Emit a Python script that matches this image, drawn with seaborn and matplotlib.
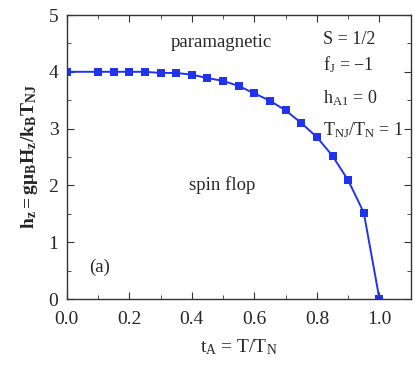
import numpy as np
import pandas as pd
import matplotlib
matplotlib.use("Agg")
import matplotlib.pyplot as plt
import seaborn as sns
from matplotlib.ticker import MultipleLocator

t_A = [0.0, 0.1, 0.15, 0.2, 0.25, 0.3, 0.35, 0.4, 0.45, 0.5, 0.55, 0.6,
       0.65, 0.7, 0.75, 0.8, 0.85, 0.9, 0.95, 1.0]
h_z = [4.0, 4.0, 4.0, 4.0, 4.0, 3.98, 3.98, 3.95, 3.89, 3.84, 3.75, 3.62,
       3.49, 3.32, 3.10, 2.85, 2.52, 2.09, 1.52, 0.0]
x_ticks = [0.0, 0.2, 0.4, 0.6, 0.8, 1.0]
y_ticks = [0, 1, 2, 3, 4, 5]

sns.set_style("ticks")
plt.rcParams['font.family'] = ['Liberation Serif', 'DejaVu Serif']
plt.rcParams['mathtext.fontset'] = 'custom'
plt.rcParams['mathtext.rm'] = 'Liberation Serif'
plt.rcParams['mathtext.it'] = 'Liberation Serif'
plt.rcParams['mathtext.bf'] = 'Liberation Serif:bold'

fig = plt.figure(figsize=(4.15, 3.68), dpi=100)
ax = fig.add_axes([66.7/415, 1 - 299/368, (410.7-66.7)/415, (299-15)/368])

df = pd.DataFrame({"t": t_A, "h": h_z})
sns.lineplot(data=df, x="t", y="h", ax=ax, color="#2233ee", lw=1.4,
             marker="s", markersize=6, markeredgewidth=0, markerfacecolor="#2233ee")

ax.set_xlim(0, 1.1)
ax.set_ylim(0, 5)
ax.set_xticks(x_ticks)
ax.set_xticklabels([f"{v:.1f}" for v in x_ticks])
ax.set_yticks(y_ticks)
ax.xaxis.set_minor_locator(MultipleLocator(0.1))
ax.yaxis.set_minor_locator(MultipleLocator(0.5))
ax.tick_params(which='both', direction='in', top=True, right=True, labelsize=14, color='#333333')
ax.tick_params(which='major', length=5)
ax.tick_params(which='minor', length=3)
ax.tick_params(axis='x', pad=9)
ax.tick_params(axis='y', pad=6)
for s in ax.spines.values():
    s.set_linewidth(1.0)
    s.set_color('#333333')

ax.set_xlabel(r"$\mathrm{t_A}$ = T/T$_\mathrm{N}$", fontsize=14, labelpad=6)
ax.set_ylabel(r"$\mathbf{h_z = g\mu_B H_z/k_B T_{NJ}}$", fontsize=14, labelpad=6)

fs = 13.5
ax.text(0.496, 4.52, "paramagnetic", fontsize=fs, ha="center", va="center")
ax.text(0.496, 2.01, "spin flop", fontsize=fs, ha="center", va="center")
ax.text(0.106, 0.56, "(a)", fontsize=fs, ha="center", va="center")
fs2 = 13
ax.text(0.818, 4.56, "S = 1/2", fontsize=fs2, ha="left", va="center")
ax.text(0.818, 4.12, r"f$_\mathrm{J}$ = $-$1", fontsize=fs2, ha="left", va="center")
ax.text(0.818, 3.53, r"h$_\mathrm{A1}$ = 0", fontsize=fs2, ha="left", va="center")
ax.text(0.818, 2.97, r"T$_\mathrm{NJ}$/T$_\mathrm{N}$ = 1", fontsize=fs2, ha="left", va="center")

fig.savefig("out.png", dpi=100)
